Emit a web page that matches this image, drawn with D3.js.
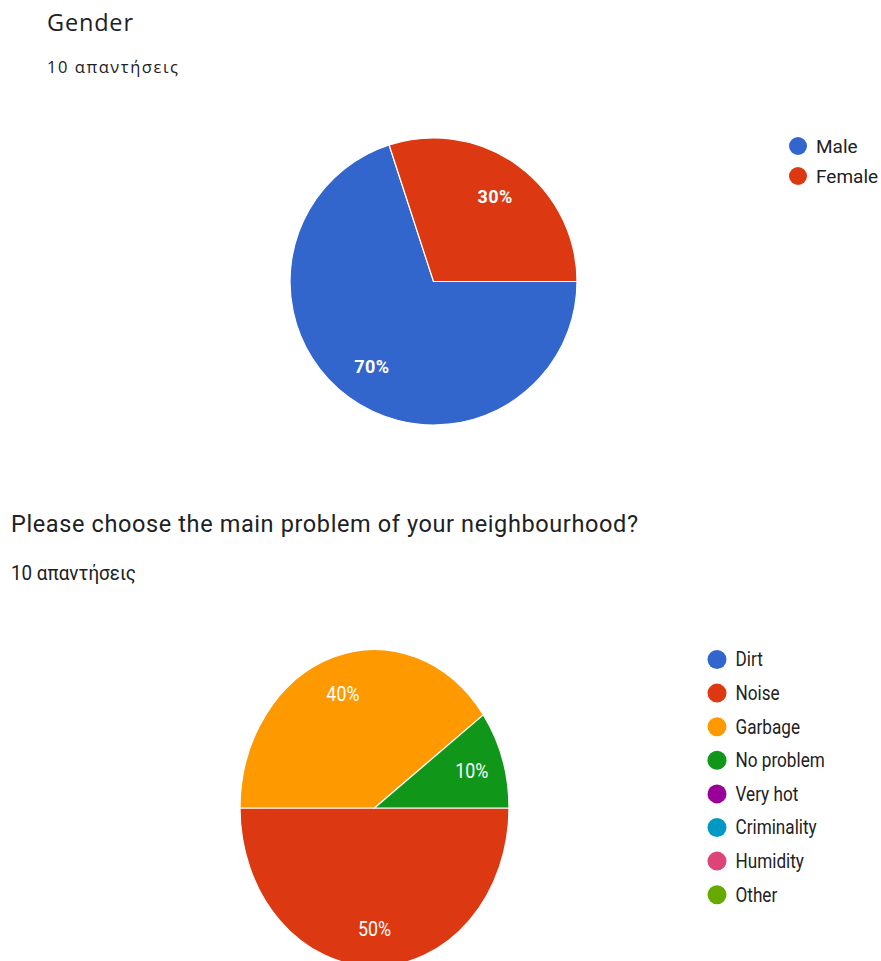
<!DOCTYPE html>
<html>
<head>
<meta charset="utf-8">
<script src="https://cdn.jsdelivr.net/npm/d3@7/dist/d3.min.js"></script>
<style>
  html, body { margin: 0; padding: 0; background: #fff; }
  svg { display: block; font-family: Roboto, "Noto Sans", Arial, sans-serif; }
</style>
</head>
<body>
<svg id="chart" width="881" height="961"></svg>
<script>
// Survey answers
const responseCount = 10;
const responseLabel = responseCount + " απαντήσεις";

const genderTitle = "Gender";
const genderCategories = ["Male", "Female"];
const genderValues = [7, 3];

const problemTitle = "Please choose the main problem of your neighbourhood?";
const problemCategories = ["Dirt", "Noise", "Garbage", "No problem", "Very hot", "Criminality", "Humidity", "Other"];
const problemValues = [0, 5, 4, 1, 0, 0, 0, 0];

const palette = ["#3366cc", "#dc3912", "#ff9900", "#109618", "#990099", "#0099c6", "#dd4477", "#66aa00"];

const svg = d3.select("#chart");
const textColor = "#202124";

// Slices start at 3 o'clock and run clockwise
const pie = d3.pie().sort(null).value(d => d.value)
  .startAngle(Math.PI / 2).endAngle(Math.PI / 2 + 2 * Math.PI);

function pct(v, total) { return Math.round(v / total * 100) + "%"; }

function drawPie(g, cats, vals, radius, labelRatio, labelStyle) {
  const data = cats.map((c, i) => ({ cat: c, value: vals[i], i }));
  const total = d3.sum(vals);
  const color = d3.scaleOrdinal().domain(cats).range(palette);
  const arcs = pie(data).filter(a => a.data.value > 0);
  const arc = d3.arc().innerRadius(0).outerRadius(radius);
  const labelArc = d3.arc().innerRadius(radius * labelRatio).outerRadius(radius * labelRatio);

  g.selectAll("path.slice").data(arcs).join("path")
    .attr("class", "slice")
    .attr("d", arc)
    .attr("fill", d => color(d.data.cat))
    .attr("stroke", "#fff")
    .attr("stroke-width", 1.2)
    .attr("vector-effect", "non-scaling-stroke");

  g.selectAll("text.pct").data(arcs).join("text")
    .attr("class", "pct")
    .attr("transform", d => `translate(${labelArc.centroid(d)})`)
    .attr("text-anchor", "middle")
    .attr("dy", "0.36em")
    .attr("fill", "#fff")
    .attr("font-size", labelStyle.size)
    .attr("font-weight", labelStyle.weight)
    .attr("letter-spacing", labelStyle.spacing)
    .text(d => pct(d.data.value, total));
  return color;
}

function drawLegend(g, cats, color, step, r, fontSize, squeeze) {
  const items = g.selectAll("g.item").data(cats).join("g")
    .attr("class", "item")
    .attr("transform", (d, i) => `translate(0,${i * step})`);
  items.append("circle").attr("r", r).attr("fill", d => color(d));
  items.append("text")
    .attr("transform", `translate(${r + 9},0) scale(${squeeze},1)`)
    .attr("dy", "0.35em")
    .attr("font-size", fontSize)
    .attr("fill", "#222")
    .text(d => d);
}

// ---- Gender ----
svg.append("text").attr("x", 47).attr("y", 31)
  .attr("font-family", "'Open Sans', Roboto, sans-serif")
  .attr("font-size", 23.5).attr("fill", textColor)
  .attr("textLength", 86).attr("lengthAdjust", "spacing")
  .text(genderTitle);
svg.append("text").attr("x", 47).attr("y", 73)
  .attr("font-family", "'Open Sans', Roboto, sans-serif")
  .attr("font-size", 16.5).attr("fill", textColor)
  .attr("textLength", 131).attr("lengthAdjust", "spacing")
  .text(responseLabel);

const g1 = svg.append("g").attr("transform", "translate(433.5,281.5)");
const c1 = drawPie(g1, genderCategories, genderValues, 143.5, 0.73,
  { size: 18, weight: "bold", spacing: 0.4 });

drawLegend(svg.append("g").attr("transform", "translate(798,146)"),
  genderCategories, c1, 30, 9, 19, 1);

// ---- Neighbourhood problem ----
svg.append("text").attr("x", 11).attr("y", 532)
  .attr("font-size", 23.5).attr("fill", textColor)
  .attr("textLength", 627).attr("lengthAdjust", "spacing")
  .text(problemTitle);
svg.append("text").attr("x", 11).attr("y", 580)
  .attr("font-size", 20).attr("fill", textColor)
  .attr("textLength", 125).attr("lengthAdjust", "spacingAndGlyphs")
  .text(responseLabel);

// Horizontally compressed pie (ellipse)
const g2 = svg.append("g").attr("transform", "translate(374.5,808) scale(0.8486,1)");
const c2 = drawPie(g2, problemCategories, problemValues, 158.5, 0.76,
  { size: 21, weight: "normal", spacing: 0 });

drawLegend(svg.append("g").attr("transform", "translate(717,659.5)"),
  problemCategories, c2, 33.6, 9.5, 19.5, 0.88);
</script>
</body>
</html>
